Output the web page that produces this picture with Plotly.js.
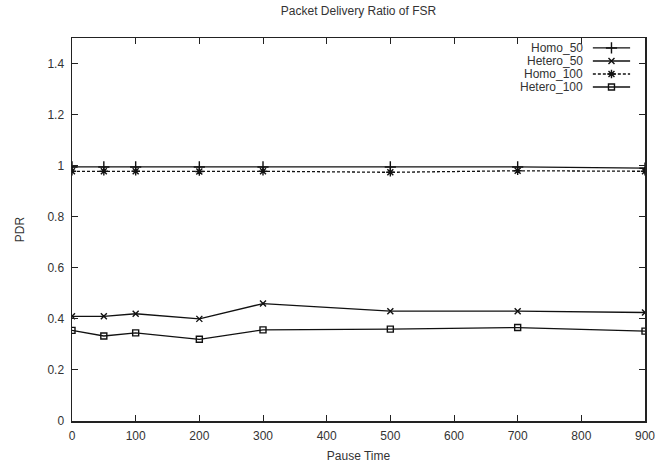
<!DOCTYPE html>
<html>
<head>
<meta charset="utf-8">
<script src="https://cdn.plot.ly/plotly-3.0.1.min.js"></script>
<style>html,body{margin:0;padding:0;background:#fff;}#chart{width:671px;height:463px;}</style>
</head>
<body>
<div id="chart"></div>
<script>
var pauseTime = [0, 50, 100, 200, 300, 500, 700, 900];
var homo50   = [0.995, 0.995, 0.995, 0.995, 0.995, 0.995, 0.995, 0.99];
var hetero50 = [0.41, 0.41, 0.42, 0.40, 0.46, 0.43, 0.43, 0.425];
var homo100  = [0.978, 0.978, 0.978, 0.977, 0.978, 0.974, 0.98, 0.978];
var hetero100= [0.355, 0.333, 0.345, 0.32, 0.357, 0.36, 0.366, 0.352];
var seriesNames = ['Homo_50', 'Hetero_50', 'Homo_100', 'Hetero_100'];
var xTicks = [0, 100, 200, 300, 400, 500, 600, 700, 800, 900];
var yTicks = [0, 0.2, 0.4, 0.6, 0.8, 1, 1.2, 1.4];

var font = 'Liberation Sans, Arial, sans-serif';
var ink = '#111';
var styles = [
  {sym: 'cross-thin-open', size: 8, dash: 'solid'},
  {sym: 'x-thin-open', size: 6, dash: 'solid'},
  {sym: 'asterisk-open', size: 7, dash: '3px,2px'},
  {sym: 'square-open', size: 6, dash: 'solid'}
];
var seriesY = [homo50, hetero50, homo100, hetero100];

var data = [];
seriesY.forEach(function (y, i) {
  var s = styles[i];
  data.push({
    x: pauseTime, y: y, name: seriesNames[i], type: 'scatter', mode: 'lines+markers',
    showlegend: false,
    line: {color: ink, width: 1.3, dash: s.dash},
    marker: {symbol: s.sym, size: s.size, color: ink, line: {color: ink, width: 1.4}}
  });
});

// custom gnuplot-style legend (text right-aligned, sample on the right)
var legX0 = 0.909, legX1 = 0.974, legXm = 0.9415, legTextX = 0.895;
var legRowsY = [0.974, 0.940, 0.906, 0.872];
var shapes = [], annotations = [];
seriesNames.forEach(function (n, i) {
  var s = styles[i];
  shapes.push({type: 'line', xref: 'paper', yref: 'paper', x0: legX0, x1: legX1, y0: legRowsY[i], y1: legRowsY[i],
    line: {color: ink, width: 1.3, dash: s.dash}});
  annotations.push({xref: 'paper', yref: 'paper', x: legTextX, y: legRowsY[i], xanchor: 'right', yanchor: 'middle',
    text: n, showarrow: false, font: {size: 12, color: '#333'}});
  data.push({
    x: [legXm], y: [legRowsY[i]], xaxis: 'x2', yaxis: 'y2', type: 'scatter', mode: 'markers', showlegend: false,
    hoverinfo: 'skip',
    marker: {symbol: s.sym, size: s.size, color: ink, line: {color: ink, width: 1.4}}
  });
});

var layout = {
  width: 671, height: 463,
  margin: {l: 72, r: 26, t: 38, b: 42},
  paper_bgcolor: '#fff', plot_bgcolor: '#fff',
  font: {family: font, size: 12, color: '#333'},
  title: {text: 'Packet Delivery Ratio of FSR', xref: 'paper', x: 0.5, xanchor: 'center', y: 0.985, yanchor: 'top', font: {size: 12, color: '#333'}},
  xaxis: {
    range: [0, 900], tickvals: xTicks, ticks: 'inside', ticklen: 6, tickcolor: '#222',
    mirror: 'ticks', showline: true, linecolor: '#222', linewidth: 1.5, showgrid: false, zeroline: false,
    ticklabelstandoff: 3,
    title: {text: 'Pause Time', standoff: 9, font: {size: 12}}, tickfont: {size: 12}
  },
  yaxis: {
    range: [0, 1.5], tickvals: yTicks, ticks: 'inside', ticklen: 6, tickcolor: '#222',
    mirror: 'ticks', showline: true, linecolor: '#222', linewidth: 1.5, showgrid: false, zeroline: false,
    ticklabelstandoff: 4,
    title: {text: 'PDR', standoff: 20, font: {size: 12}}, tickfont: {size: 12}
  },
  xaxis2: {overlaying: 'x', range: [0, 1], visible: false, fixedrange: true},
  yaxis2: {overlaying: 'y', range: [0, 1], visible: false, fixedrange: true},
  shapes: shapes,
  annotations: annotations,
  showlegend: false
};
Plotly.newPlot('chart', data, layout, {displayModeBar: false, staticPlot: true});
</script>
</body>
</html>
